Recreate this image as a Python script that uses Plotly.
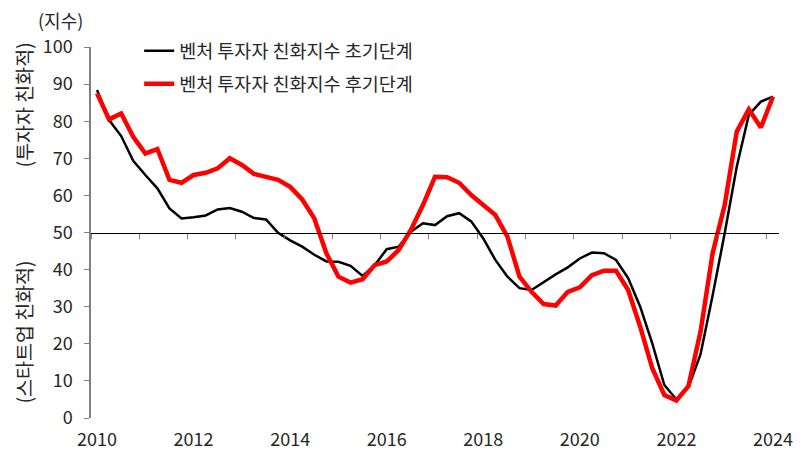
import plotly.graph_objects as go

years = ["2010", "2012", "2014", "2016", "2018", "2020", "2022", "2024"]
# quarterly points, 2010Q1 .. 2024Q1
early = [88.4, 80.3, 76.0, 69.3, 65.5, 61.9, 56.5, 53.8, 54.1, 54.6, 56.2, 56.6,
         55.6, 53.9, 53.5, 49.9, 47.9, 46.2, 44.0, 42.2, 42.1, 41.0, 38.3, 41.2,
         45.5, 46.2, 50.2, 52.5, 52.0, 54.4, 55.2, 53.0, 48.4, 42.6, 38.1, 35.0,
         34.5, 36.7, 38.7, 40.6, 43.0, 44.6, 44.4, 42.6, 37.7, 30.0, 20.1, 8.9,
         5.0, 8.3, 17.2, 33.0, 49.8, 67.7, 81.7, 85.3, 86.6]
late = [87.5, 80.5, 82.1, 75.8, 71.3, 72.5, 64.2, 63.4, 65.5, 66.1, 67.3, 70.0,
        68.2, 65.8, 65.0, 64.2, 62.3, 58.9, 53.8, 44.4, 38.1, 36.5, 37.4, 41.2,
        42.2, 45.3, 50.7, 57.4, 65.0, 64.9, 63.4, 60.1, 57.4, 54.7, 48.9, 38.1,
        34.0, 30.7, 30.3, 34.0, 35.2, 38.5, 39.7, 39.7, 34.5, 24.6, 13.4, 6.2,
        4.7, 8.6, 23.3, 44.4, 57.4, 77.2, 83.2, 78.3, 86.6]
name_early = "벤처 투자자 친화지수 초기단계"
name_late = "벤처 투자자 친화지수 후기단계"

FONT = "Noto Sans CJK KR"
TXT = "#262626"
idx = list(range(len(early)))

fig = go.Figure()
fig.add_trace(go.Scatter(x=idx, y=early, mode="lines", name=name_early, legendgroup="a",
                         line=dict(color="#000000", width=2.5), xaxis="x", yaxis="y"))
fig.add_trace(go.Scatter(x=idx, y=late, mode="lines", name=name_late, legendgroup="b",
                         line=dict(color="#FF0000", width=4.5), xaxis="x2", yaxis="y"))

rng = [-0.5, len(early) - 0.5]
fig.update_layout(
    width=803, height=450,
    margin=dict(l=91, r=24, t=47, b=32, autoexpand=False),
    paper_bgcolor="white", plot_bgcolor="white",
    font=dict(family=FONT, size=17, color=TXT),
    showlegend=True,
    legend=dict(x=0.07, y=1.04, xanchor="left", yanchor="top",
                bgcolor="rgba(0,0,0,0)", font=dict(size=18.5, color=TXT),
                tracegroupgap=6),
    xaxis=dict(range=rng, anchor="free", position=0.5, side="bottom",
               showline=True, linecolor="#000000", linewidth=1.3,
               tickmode="array", tickvals=[-0.5 + 4 * k for k in range(15)],
               ticks="outside", ticklen=5, tickcolor="#808080", tickwidth=1.3,
               showticklabels=False, showgrid=False, zeroline=False, fixedrange=True),
    xaxis2=dict(range=rng, overlaying="x", anchor="y", side="bottom",
                showline=False, ticks="", showgrid=False, zeroline=False,
                tickmode="array", tickvals=[8 * k for k in range(len(years))],
                ticktext=years, tickfont=dict(size=18, color=TXT),
                ticklabelstandoff=9),
    yaxis=dict(range=[0, 100], tickmode="array", tickvals=list(range(0, 101, 10)),
               ticks="outside", ticklen=5, tickcolor="#808080", tickwidth=1.3,
               showline=True, linecolor="#808080", linewidth=1.5,
               showgrid=False, zeroline=False, tickfont=dict(size=18, color=TXT),
               ticklabelstandoff=8),
    annotations=[
        dict(text="(지수)", xref="paper", yref="paper", x=-0.045, y=1.073,
             xanchor="center", yanchor="middle", showarrow=False,
             font=dict(size=18, color=TXT)),
        dict(text="(투자자 친화적)", xref="paper", yref="paper", x=-0.098, y=0.844,
             xanchor="center", yanchor="middle", showarrow=False, textangle=-90,
             font=dict(size=19.5, color=TXT)),
        dict(text="(스타트업 친화적)", xref="paper", yref="paper", x=-0.098, y=0.232,
             xanchor="center", yanchor="middle", showarrow=False, textangle=-90,
             font=dict(size=19.5, color=TXT)),
    ],
)

fig.write_html("out.html", config={"displayModeBar": False},
               post_script="document.body.style.margin='0px';document.body.style.padding='0px';")
